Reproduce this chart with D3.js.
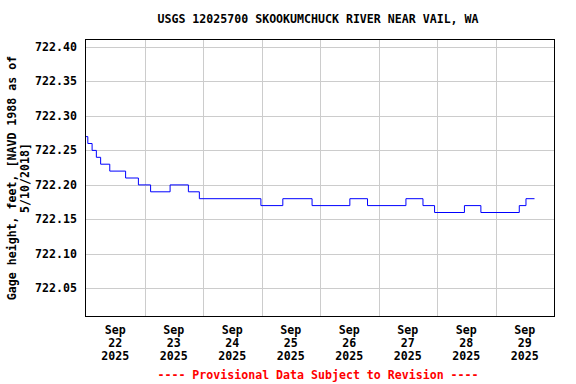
<!DOCTYPE html>
<html>
<head>
<meta charset="utf-8">
<script src="https://d3js.org/d3.v7.min.js"></script>
<style>
    html, body { margin: 0; padding: 0; background: #fff; }
    svg text { font-family: "DejaVu Sans Mono", "Liberation Mono", monospace; font-weight: bold; font-size: 11.6px; }
    .grid line { stroke: #cccccc; stroke-width: 1px; shape-rendering: crispEdges; }
    path.gage { fill: none; stroke: #0000ff; stroke-width: 1px; }
</style>
</head>
<body>
<div id="chart"></div>
<script>
    // gage height step changes (time of change, new value)
    var stepTimes = ["2025-09-22 00:00", "2025-09-22 00:45", "2025-09-22 02:30", "2025-09-22 04:15",
        "2025-09-22 06:00", "2025-09-22 09:45", "2025-09-22 16:15", "2025-09-22 21:30",
        "2025-09-23 02:30", "2025-09-23 10:30", "2025-09-23 18:00", "2025-09-23 22:30",
        "2025-09-24 23:45", "2025-09-25 08:45", "2025-09-25 20:45", "2025-09-26 12:15",
        "2025-09-26 19:30", "2025-09-27 11:15", "2025-09-27 18:15", "2025-09-27 23:00",
        "2025-09-28 11:15", "2025-09-28 18:00", "2025-09-29 09:45", "2025-09-29 12:30",
        "2025-09-29 16:00"];
    var stepValues = [722.27, 722.26, 722.25, 722.24,
        722.23, 722.22, 722.21, 722.20,
        722.19, 722.20, 722.19, 722.18,
        722.17, 722.18, 722.17, 722.18,
        722.17, 722.18, 722.17, 722.16,
        722.17, 722.16, 722.17, 722.18,
        722.18];
    var yTicks = [722.05, 722.10, 722.15, 722.20, 722.25, 722.30, 722.35, 722.40];
    var dayTicks = ["2025-09-22", "2025-09-23", "2025-09-24", "2025-09-25",
        "2025-09-26", "2025-09-27", "2025-09-28", "2025-09-29", "2025-09-30"];

    var width = 576, height = 384,
        margin = {top: 40, right: 22, bottom: 68, left: 86};
    var pw = width - margin.left - margin.right,
        ph = height - margin.top - margin.bottom;

    var parseT = d3.timeParse("%Y-%m-%d %H:%M"),
        parseD = d3.timeParse("%Y-%m-%d");

    var data = stepTimes.map(function (t, i) {
        return {date: parseT(t), value: stepValues[i]};
    });
    var days = dayTicks.map(parseD);

    var x = d3.scaleTime()
        .domain([days[0], days[days.length - 1]])
        .range([0, pw]);
    var y = d3.scaleLinear()
        .domain([722.01, 722.41])
        .range([ph, 0]);

    var svg = d3.select("#chart").append("svg")
        .attr("width", width)
        .attr("height", height);

    svg.append("text")
        .attr("x", margin.left + pw / 2 - 2)
        .attr("y", 23)
        .attr("text-anchor", "middle")
        .text("USGS 12025700 SKOOKUMCHUCK RIVER NEAR VAIL, WA");

    var g = svg.append("g")
        .attr("transform", "translate(" + margin.left + "," + margin.top + ")");

    // grid
    var grid = g.append("g").attr("class", "grid");
    grid.selectAll("line.v").data(days.slice(1, -1))
        .enter().append("line")
        .attr("x1", function (d) { return Math.round(x(d)) + 0.5; })
        .attr("x2", function (d) { return Math.round(x(d)) + 0.5; })
        .attr("y1", 0).attr("y2", ph);
    grid.selectAll("line.h").data(yTicks)
        .enter().append("line")
        .attr("y1", function (d) { return Math.round(y(d)) + 0.5; })
        .attr("y2", function (d) { return Math.round(y(d)) + 0.5; })
        .attr("x1", 0).attr("x2", pw);

    // y labels
    g.selectAll("text.ylab").data(yTicks)
        .enter().append("text")
        .attr("x", -9)
        .attr("y", function (d) { return y(d) + 4; })
        .attr("text-anchor", "end")
        .text(d3.format(".2f"));

    // x labels at noon of each day
    var fmtMon = d3.timeFormat("%b"), fmtDay = d3.timeFormat("%d"), fmtYr = d3.timeFormat("%Y");
    var xl = g.selectAll("text.xlab").data(days.slice(0, -1))
        .enter().append("text")
        .attr("text-anchor", "middle")
        .attr("transform", function (d) {
            return "translate(" + x(d3.timeHour.offset(d, 12)) + "," + (ph + 18) + ")";
        });
    xl.append("tspan").attr("x", 0).attr("y", 0).text(fmtMon);
    xl.append("tspan").attr("x", 0).attr("y", 13).text(fmtDay);
    xl.append("tspan").attr("x", 0).attr("y", 26).text(fmtYr);

    // gage line
    var line = d3.line()
        .curve(d3.curveStepAfter)
        .x(function (d) { return x(d.date); })
        .y(function (d) { return y(d.value); });
    g.append("path")
        .datum(data)
        .attr("class", "gage")
        .attr("d", line);

    // frame
    g.append("rect")
        .attr("x", -0.5).attr("y", -0.5)
        .attr("width", pw + 1).attr("height", ph + 1)
        .attr("fill", "none")
        .attr("stroke", "#000")
        .attr("stroke-width", 1);

    // y axis title
    var yt = svg.append("text")
        .attr("text-anchor", "middle")
        .attr("transform", "translate(16," + (margin.top + ph / 2) + ") rotate(-90)");
    yt.append("tspan").attr("x", 0).attr("y", 0).text("Gage height, feet, [NAVD 1988 as of");
    yt.append("tspan").attr("x", 0).attr("y", 13).text("5/10/2018]");

    svg.append("text")
        .attr("x", margin.left + pw / 2 - 2)
        .attr("y", 379)
        .attr("text-anchor", "middle")
        .attr("fill", "#ff0000")
        .text("---- Provisional Data Subject to Revision ----");
</script>
</body>
</html>
